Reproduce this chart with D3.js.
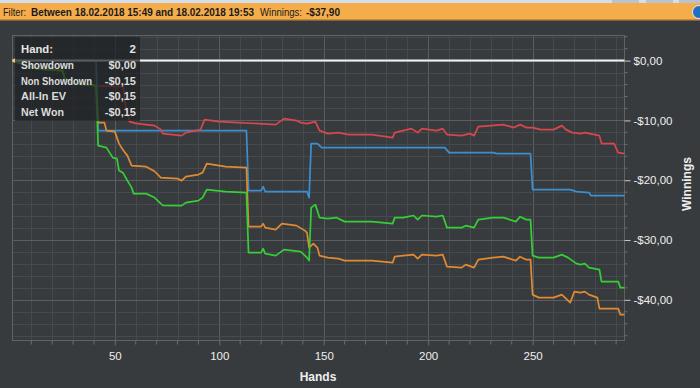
<!DOCTYPE html>
<html><head><meta charset="utf-8">
<script src="https://cdn.jsdelivr.net/npm/d3@7/dist/d3.min.js"></script>
<style>
html,body{margin:0;padding:0;background:#383b3e;overflow:hidden;}
svg{display:block;}
text{font-family:"Liberation Sans","DejaVu Sans",sans-serif;}
</style></head>
<body>
<svg id="c" width="700" height="388"></svg>
<script>
// ---- data ----
const filterFrom = "18.02.2018 15:49";
const filterTo = "18.02.2018 19:53";
const totalWinnings = -37.90;
const xTicks = [50, 100, 150, 200, 250];
const yTicks = [0, -10, -20, -30, -40];
const legendHand = 2;
const legendLabels = ["Showdown", "Non Showdown", "All-In EV", "Net Won"];
const legendValues = [0.00, -0.15, -0.15, -0.15];

const showdown = [[1,0],[41,0],[42,-11.71],[113,-11.71],[114,-21.74],[120,-21.74],[121,-21.07],[122,-21.91],[142,-21.91],[143,-22.91],[144,-13.88],[147,-13.88],[149,-14.55],[208,-14.55],[210,-15.38],[231,-15.38],[233,-15.55],[249,-15.55],[250,-21.57],[268,-21.57],[271,-21.91],[277,-22.07],[278,-22.58],[294,-22.58]];

const nonShowdown = [[1,0],[2,-0.15],[13,-1.4],[25,-1.67],[26,-3.0],[31,-3.85],[41,-4.18],[54,-4.35],[55,-7.2],[56,-8.9],[57,-10.2],[60,-10.5],[69,-10.87],[72,-11.5],[73,-12.21],[82,-12.54],[84,-12.04],[91,-11.54],[93,-9.87],[100,-10.2],[109,-10.37],[119,-10.54],[127,-10.7],[131,-9.7],[137,-10.03],[139,-10.37],[142,-10.54],[146,-10.2],[148,-11.71],[152,-12.21],[157,-12.04],[162,-12.37],[173,-12.37],[183,-12.88],[184,-12.04],[188,-11.71],[192,-11.37],[195,-12.04],[197,-11.37],[204,-11.71],[207,-11.37],[209,-12.37],[216,-12.54],[220,-12.21],[222,-12.54],[224,-11.04],[230,-10.87],[236,-10.7],[241,-11.2],[244,-10.7],[247,-11.2],[250,-11.2],[254,-11.54],[260,-11.54],[264,-10.87],[266,-11.54],[269,-12.04],[273,-12.21],[275,-12.04],[282,-12.54],[283,-13.88],[289,-13.88],[291,-15.38],[294,-15.55]];

const allInEV = [[1,0],[2,-0.15],[13,-1.4],[25,-1.67],[26,-3.0],[31,-3.85],[41,-4.18],[42,-10.37],[45,-10.37],[46,-11.71],[50,-11.87],[52,-13.88],[54,-15.0],[56,-15.89],[58,-17.55],[65,-17.73],[69,-18.5],[72,-19.57],[80,-19.73],[82,-20.07],[84,-19.4],[90,-19.06],[92,-18.73],[94,-17.22],[103,-17.73],[113,-17.89],[114,-27.76],[120,-27.76],[121,-27.26],[122,-27.93],[127,-28.26],[130,-27.26],[137,-27.59],[141,-28.43],[142,-28.76],[143,-31.27],[145,-30.6],[147,-31.27],[148,-32.61],[152,-32.94],[157,-33.11],[160,-33.44],[173,-33.44],[183,-33.78],[184,-32.78],[188,-32.61],[193,-32.44],[195,-33.11],[197,-32.44],[204,-32.61],[207,-32.44],[209,-34.45],[216,-34.62],[218,-34.11],[222,-34.62],[224,-33.28],[231,-32.94],[236,-32.78],[242,-33.44],[244,-32.78],[247,-33.28],[249,-33.28],[250,-39.13],[253,-39.63],[260,-39.63],[264,-39.13],[266,-39.79],[268,-40.47],[270,-38.63],[273,-38.79],[275,-38.63],[277,-39.13],[281,-39.63],[282,-41.47],[291,-41.47],[292,-42.47],[294,-42.47]];

const netWon = [[1,0],[2,-0.15],[13,-1.4],[25,-1.67],[26,-3.0],[31,-3.85],[41,-4.18],[42,-14.21],[46,-14.55],[49,-16.22],[51,-16.4],[52,-18.39],[54,-18.8],[56,-20.07],[58,-21.2],[59,-22.24],[65,-22.24],[69,-22.9],[72,-23.91],[73,-24.2],[82,-24.25],[84,-23.75],[90,-23.41],[92,-22.9],[94,-21.57],[103,-21.9],[113,-22.07],[114,-32.11],[120,-32.11],[121,-31.44],[122,-32.27],[127,-32.61],[129,-32.11],[131,-31.61],[139,-31.94],[142,-32.94],[143,-33.44],[144,-24.58],[146,-24.08],[148,-26.25],[152,-26.42],[156,-26.25],[160,-26.92],[173,-26.92],[183,-27.26],[184,-26.25],[188,-26.25],[193,-25.9],[195,-26.6],[197,-25.9],[204,-26.09],[207,-25.9],[209,-27.93],[216,-27.93],[218,-27.6],[222,-27.93],[224,-26.59],[231,-26.25],[236,-26.25],[242,-26.92],[244,-26.09],[247,-26.59],[249,-26.59],[250,-32.61],[253,-32.94],[260,-32.94],[264,-32.44],[267,-32.94],[271,-33.95],[273,-34.11],[275,-33.95],[277,-34.62],[282,-34.95],[283,-36.96],[291,-36.96],[292,-37.96],[294,-37.96]];

const seriesList = [
  {name:"Showdown", data:showdown, color:"#3b8fd0"},
  {name:"Non Showdown", data:nonShowdown, color:"#d6474e"},
  {name:"All-In EV", data:allInEV, color:"#e08a33"},
  {name:"Net Won", data:netWon, color:"#35cf35"}
];

// ---- chart ----
const svg = d3.select("#c");
const L = 12.5, R = 624.5, T = 35.5, B = 340.5;
const x = d3.scaleLinear().domain([1, 294]).range([L, R]);
const y = d3.scaleLinear().domain([-46.8, 4.2]).range([B, T]);
const money = v => (v < 0 ? "-" : "") + "$" + Math.abs(v).toFixed(2).replace(".", ",");

// top bars
svg.append("rect").attr("x",0).attr("y",0).attr("width",700).attr("height",3).attr("fill","#d5dfeb");
[[612,27],[646,27],[679,21]].forEach(b=>svg.append("rect").attr("x",b[0]).attr("y",0).attr("width",b[1]).attr("height",3).attr("fill","#b9c3cf"));
svg.append("rect").attr("x",0).attr("y",3).attr("width",700).attr("height",17).attr("fill","#f5ad4c");
svg.append("rect").attr("x",0).attr("y",19).attr("width",700).attr("height",1.5).attr("fill","#c98a35");
svg.append("circle").attr("cx",699).attr("cy",12).attr("r",6.5).attr("fill","#1f6fc4").attr("stroke","#dfe9f5").attr("stroke-width",1);

// filter text: each part placed and sized to its span in the reference
const filterParts = [
  {t:"Filter:", x:3, w:23, b:false},
  {t:"Between " + filterFrom + " and " + filterTo, x:31, w:223, b:true},
  {t:"Winnings:", x:260, w:42, b:false},
  {t:money(totalWinnings), x:306, w:34, b:true}
];
filterParts.forEach(p=>{
  svg.append("text").attr("x",p.x).attr("y",16).attr("font-size",10).attr("fill","#1a1a1a")
    .attr("font-weight",p.b?"bold":"normal").attr("textLength",p.w).attr("lengthAdjust","spacingAndGlyphs")
    .text(p.t);
});

// grid
const g = svg.append("g");
const xMinor = d3.range(10, 294, 10);
const yMinor = d3.range(-46, 4.2, 2);
g.selectAll(".vx").data(xMinor).join("line")
  .attr("x1",d=>Math.round(x(d))+0.5).attr("x2",d=>Math.round(x(d))+0.5).attr("y1",T).attr("y2",B)
  .attr("stroke",d=>d%50===0?"#5a5d61":"#46494d").attr("stroke-width",1);
g.selectAll(".hy").data(yMinor).join("line")
  .attr("x1",L).attr("x2",R).attr("y1",d=>Math.round(y(d))+0.5).attr("y2",d=>Math.round(y(d))+0.5)
  .attr("stroke",d=>d%10===0?"#5a5d61":"#46494d").attr("stroke-width",1);

// border
svg.append("rect").attr("x",L).attr("y",T).attr("width",R-L).attr("height",B-T)
  .attr("fill","none").attr("stroke","#5f6266").attr("stroke-width",1);

// series
const line = d3.line().x(d=>x(d[0])).y(d=>y(d[1]));
svg.append("g").selectAll("path").data(seriesList).join("path")
  .attr("d",d=>line(d.data)).attr("fill","none").attr("stroke",d=>d.color)
  .attr("stroke-width",1.7).attr("stroke-linejoin","round");

// zero line
svg.append("line").attr("x1",L).attr("x2",R).attr("y1",y(0)).attr("y2",y(0))
  .attr("stroke","#f2f2f2").attr("stroke-width",2);
svg.append("circle").attr("cx",x(legendHand)).attr("cy",y(0)).attr("r",2).attr("fill","#f2c46a");

// right axis
const ya = d3.axisRight(y).tickValues(yTicks).tickSize(6).tickPadding(3).tickFormat(money);
const yg = svg.append("g").attr("transform",`translate(${R},0)`).call(ya);
yg.select(".domain").remove();
yg.selectAll("line").attr("stroke","#c8c8c8");
yg.selectAll("text").attr("fill","#eeeeee").attr("font-size",11.5);
svg.append("g").selectAll("line").data(yMinor.filter(d=>d%10!==0)).join("line")
  .attr("x1",R).attr("x2",R+3).attr("y1",d=>y(d)).attr("y2",d=>y(d)).attr("stroke","#6a6d71");

// bottom axis
const xa = d3.axisBottom(x).tickValues(xTicks).tickSize(5).tickPadding(6).tickFormat(d3.format("d"));
const xg = svg.append("g").attr("transform",`translate(0,${B})`).call(xa);
xg.select(".domain").remove();
xg.selectAll("line").attr("stroke","#6a6d71");
xg.selectAll("text").attr("fill","#eeeeee").attr("font-size",11.5);
svg.append("g").selectAll("line").data(xMinor.filter(d=>d%50!==0)).join("line")
  .attr("x1",d=>x(d)).attr("x2",d=>x(d)).attr("y1",B).attr("y2",B+4).attr("stroke","#6a6d71");

// axis titles
svg.append("text").attr("x",318).attr("y",381).attr("text-anchor","middle").attr("font-size",12)
  .attr("font-weight","bold").attr("fill","#eeeeee").text("Hands");
svg.append("text").attr("transform","translate(691,184) rotate(-90)").attr("text-anchor","middle")
  .attr("font-size",12).attr("font-weight","bold").attr("fill","#eeeeee").text("Winnings");

// legend / tooltip box
const labelW = [53, 71, 45, 43];
const lg = svg.append("g");
lg.append("rect").attr("x",15).attr("y",37).attr("width",125).attr("height",84)
  .attr("fill","#1f2123").attr("opacity",0.72);
lg.append("text").attr("x",21).attr("y",53).attr("font-size",11).attr("font-weight","bold")
  .attr("fill","#e6e6e6").attr("textLength",32).attr("lengthAdjust","spacingAndGlyphs").text("Hand:");
lg.append("text").attr("x",136).attr("y",53).attr("text-anchor","end").attr("font-size",11.5)
  .attr("font-weight","bold").attr("fill","#e6e6e6").text(legendHand);
legendLabels.forEach((lab,i)=>{
  lg.append("text").attr("x",21).attr("y",69+i*15.7).attr("font-size",10.5).attr("font-weight","bold")
    .attr("fill","#dcdcdc").attr("textLength",labelW[i]).attr("lengthAdjust","spacingAndGlyphs").text(lab);
  lg.append("text").attr("x",136).attr("y",69+i*15.7).attr("text-anchor","end").attr("font-size",11)
    .attr("font-weight","bold").attr("fill","#dcdcdc").text(money(legendValues[i]));
});
</script>
</body></html>
